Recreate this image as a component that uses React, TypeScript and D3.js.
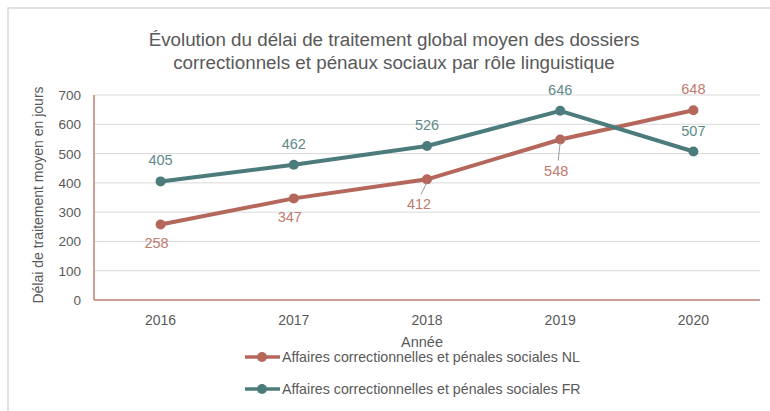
import React from "react";
import * as d3 from "d3";

const years = ["2016", "2017", "2018", "2019", "2020"];
const nlValues = [258, 347, 412, 548, 648];
const frValues = [405, 462, 526, 646, 507];
const yTicks = [0, 100, 200, 300, 400, 500, 600, 700];
const nlLabelPlacement = ["below", "below", "below-left", "below-far", "above"];
const frLabelPlacement = ["above", "above", "above", "above", "above"];

const titleLines = [
  "Évolution du délai de traitement global moyen des dossiers",
  "correctionnels et pénaux sociaux par rôle linguistique",
];
const seriesNames = [
  "Affaires correctionnelles et pénales sociales NL",
  "Affaires correctionnelles et pénales sociales FR",
];

const W = 770;
const H = 411;
const FONT = "'Liberation Sans', Arial, sans-serif";
const NL_COLOR = "#B5675C";
const FR_COLOR = "#4C7B7B";
const NL_LABEL = "#C07A70";
const FR_LABEL = "#5E8A8A";
const AXIS_COLOR = "#C27F73";
const GRID = "#D9D9D9";
const TEXT = "#595959";

const plot = { left: 94, right: 760, top: 95, bottom: 300 };

const placementOffset: Record<string, { dx: number; dy: number; leader: boolean }> = {
  above: { dx: 0, dy: -16, leader: false },
  below: { dx: -4, dy: 24, leader: false },
  "below-left": { dx: -8, dy: 30, leader: true },
  "below-far": { dx: -4, dy: 36, leader: true },
};

export default function App() {
  const x = d3
    .scaleBand<string>()
    .domain(years)
    .range([plot.left, plot.right])
    .paddingInner(0)
    .paddingOuter(0);
  const cx = (y: string) => (x(y) ?? 0) + x.bandwidth() / 2;
  const y = d3.scaleLinear().domain([0, 700]).range([plot.bottom, plot.top]);

  const line = d3
    .line<number>()
    .x((_, i) => cx(years[i]))
    .y((d) => y(d));

  const series = [
    { name: seriesNames[0], values: nlValues, color: NL_COLOR, label: NL_LABEL, place: nlLabelPlacement },
    { name: seriesNames[1], values: frValues, color: FR_COLOR, label: FR_LABEL, place: frLabelPlacement },
  ];

  return (
    <svg width={W} height={H} style={{ position: "absolute", left: 0, top: 0, background: "#fff" }}>
      <rect x={8} y={8} width={W} height={H} fill="#fff" stroke="#D9D9D9" strokeWidth={1.5} />
      {titleLines.map((t, i) => (
        <text key={i} x={394} y={46 + i * 23} textAnchor="middle" fontFamily={FONT} fontSize={18.8} fill={TEXT}>
          {t}
        </text>
      ))}
      {yTicks.map((t) => (
        <g key={t}>
          {t > 0 && (
            <line x1={plot.left} x2={plot.right} y1={y(t)} y2={y(t)} stroke={GRID} strokeWidth={1} />
          )}
          <text x={81} y={y(t) + 5} textAnchor="end" fontFamily={FONT} fontSize={13.5} fill={TEXT}>
            {t}
          </text>
        </g>
      ))}
      <line x1={plot.left} x2={plot.left} y1={plot.top} y2={plot.bottom} stroke={AXIS_COLOR} strokeWidth={1.5} />
      <line x1={plot.left} x2={plot.right} y1={plot.bottom} y2={plot.bottom} stroke={AXIS_COLOR} strokeWidth={1.5} />
      {years.map((yr) => (
        <text key={yr} x={cx(yr)} y={325} textAnchor="middle" fontFamily={FONT} fontSize={14} fill={TEXT}>
          {yr}
        </text>
      ))}
      <text x={422} y={347} textAnchor="middle" fontFamily={FONT} fontSize={14.5} fill={TEXT}>
        Année
      </text>
      <text
        transform={`translate(43,195) rotate(-90)`}
        textAnchor="middle"
        fontFamily={FONT}
        fontSize={14}
        fill={TEXT}
      >
        Délai de traitement moyen en jours
      </text>
      {series.map((s) => (
        <g key={s.name}>
          <path d={line(s.values) ?? ""} fill="none" stroke={s.color} strokeWidth={4} strokeLinejoin="round" />
          {s.values.map((v, i) => (
            <circle key={i} cx={cx(years[i])} cy={y(v)} r={5} fill={s.color} />
          ))}
          {s.values.map((v, i) => {
            const o = placementOffset[s.place[i]];
            const px = cx(years[i]);
            const py = y(v);
            return (
              <g key={"l" + i}>
                {o.leader && (
                  <line x1={px} y1={py + 3} x2={px + o.dx + 2} y2={py + o.dy - 15} stroke="#999" strokeWidth={1} />
                )}
                <text x={px + o.dx} y={py + o.dy} textAnchor="middle" fontFamily={FONT} fontSize={14.5} fill={s.label}>
                  {v}
                </text>
              </g>
            );
          })}
        </g>
      ))}
      {series.map((s, i) => (
        <g key={"lg" + i} transform={`translate(0,${357 + i * 32})`}>
          <line x1={245} x2={280} y1={0} y2={0} stroke={s.color} strokeWidth={3.5} />
          <circle cx={262} cy={0} r={5} fill={s.color} />
          <text x={282} y={5} fontFamily={FONT} fontSize={14.2} fill={TEXT}>
            {s.name}
          </text>
        </g>
      ))}
    </svg>
  );
}
